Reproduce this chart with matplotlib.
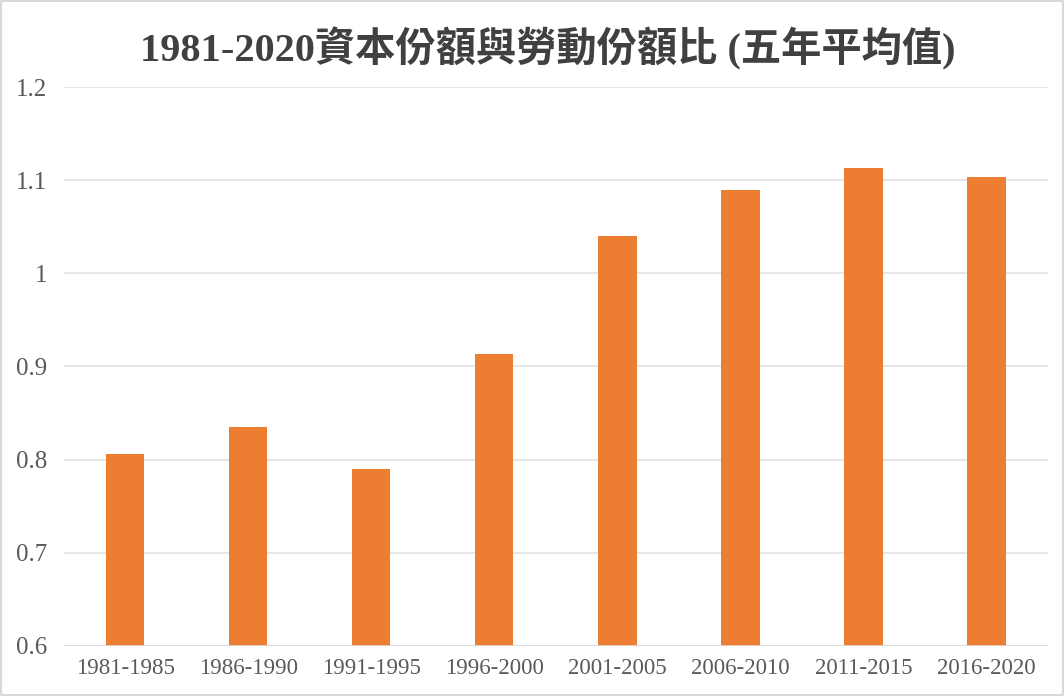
import matplotlib
matplotlib.use("Agg")
import matplotlib.pyplot as plt
import numpy as np

periods = ['1981-1985', '1986-1990', '1991-1995', '1996-2000',
           '2001-2005', '2006-2010', '2011-2015', '2016-2020']
ratio = [0.806, 0.835, 0.790, 0.913, 1.040, 1.089, 1.113, 1.103]
y_ticks = [0.6, 0.7, 0.8, 0.9, 1.0, 1.1, 1.2]
y_labels = ['0.6', '0.7', '0.8', '0.9', '1', '1.1', '1.2']

fonts = ['Liberation Serif', 'Noto Sans CJK TC', 'DejaVu Sans']
plt.rcParams['font.family'] = fonts

fig = plt.figure(figsize=(10.64, 6.96), dpi=100)
ax = fig.add_axes([0.060, 0.072, 0.925, 0.803])

x = np.arange(len(periods))
ax.bar(x, ratio, width=0.31, color='#ED7D31', zorder=3)

ax.set_ylim(0.6, 1.2)
ax.set_xlim(-0.5, len(periods) - 0.5)
ax.set_yticks(y_ticks)
ax.set_yticklabels(y_labels, fontsize=18, color='#595959')
ax.set_xticks(x)
ax.set_xticklabels(periods, fontsize=16.5, color='#595959')
ax.tick_params(length=0, pad=9)
ax.tick_params(axis='y', pad=12)
ax.grid(axis='y', color='#E3E3E3', linewidth=1.2, zorder=0)
for s in ax.spines.values():
    s.set_visible(False)
ax.axhline(0.6, color='#D9D9D9', linewidth=1.2, zorder=4)

fig.text(0.515, 0.93, '1981-2020資本份額與勞動份額比 (五年平均值)',
         ha='center', va='center', fontsize=29, fontweight='bold', color='#404040')

# light frame around the picture
fig.patches.append(plt.Rectangle((0.001, 0.001), 0.998, 0.998, transform=fig.transFigure,
                                 fill=False, edgecolor='#D9D9D9', linewidth=1.5))

fig.savefig('out.png', dpi=100)
